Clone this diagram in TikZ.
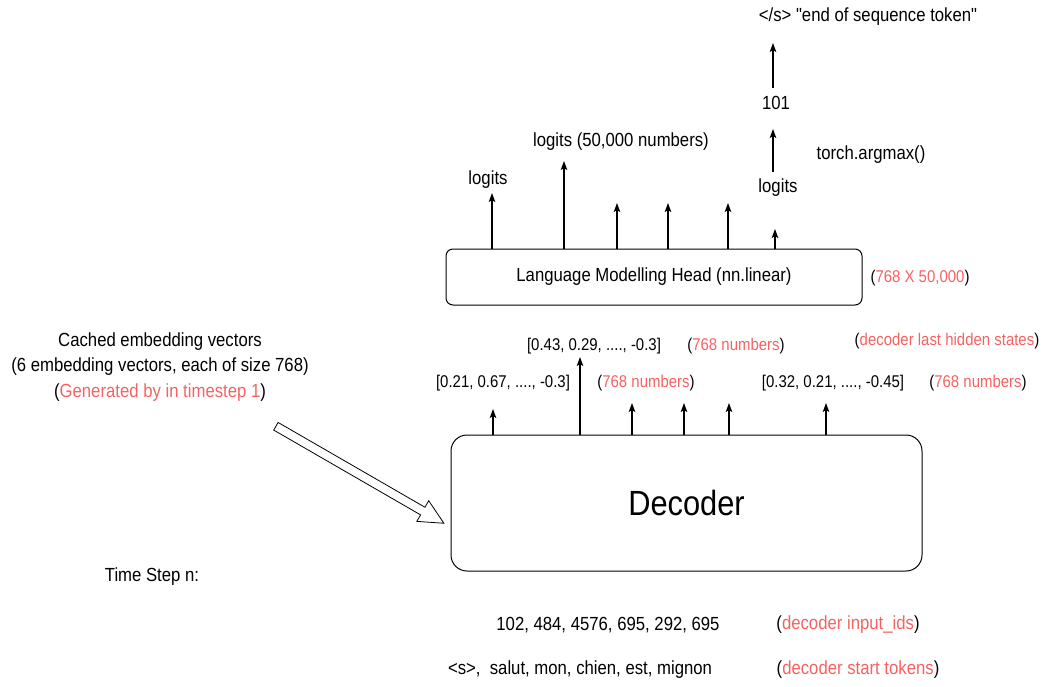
\documentclass[tikz,border=0pt]{standalone}
\usepackage{fontspec}
\setmainfont[FakeStretch=0.88, Ligatures=TeXOff]{Liberation Sans}
\usetikzlibrary{arrows.meta,shapes.arrows,calc}
\definecolor{rd}{RGB}{245,98,98}
\begin{document}
\begin{tikzpicture}[x=1pt,y=-1pt,
 txt/.style={inner sep=0pt, font=\fontsize{19}{25.5}\selectfont, align=center},
 sm/.style={inner sep=0pt, font=\fontsize{17}{20}\selectfont},
 box/.style={draw, line width=1pt},
 arr/.style={line width=1.3pt, -{Stealth[length=9pt,width=6.5pt,inset=2pt]}}]
\useasboundingbox (0,0) rectangle (1045,686);

% boxes
\node[box, rounded corners=7pt, minimum width=416pt, minimum height=56pt, txt] (lm) at (654,277) {Language Modelling Head (nn.linear)};
\node[box, rounded corners=16pt, minimum width=471pt, minimum height=136pt, inner sep=0pt, font=\fontsize{35}{40}\selectfont] (dec) at (686.5,503) {Decoder};

% LM head outputs
\node[txt] (lg1) at (488,180) {logits};
\node[txt] (lg2) at (621,142) {logits (50,000 numbers)};
\node[txt] (lg3) at (778,188) {logits};
\node[txt] (argm) at (871,155) {torch.argmax()};
\node[txt] (n101) at (776,103) {101};
\node[txt] (eos) at (868,17) {</s> "end of sequence token"};
\node[sm] (lmdim) at (920,278) {(\textcolor{rd}{768 X 50,000})};

\coordinate (h1) at (492,193);
\coordinate (h2) at (564,161);
\coordinate (h3) at (617,203);
\coordinate (h4) at (668,203);
\coordinate (h5) at (728,203);
\coordinate (h6) at (775,229);
\coordinate (a1) at (773,172);
\coordinate (a2) at (773,129);
\coordinate (b1) at (773,88);
\coordinate (b2) at (773,43);
\foreach \c in {h1,h2,h3,h4,h5,h6} \draw[arr] (lm.north -| \c) -- (\c);
\draw[arr] (a1) -- (a2);
\draw[arr] (b1) -- (b2);

% decoder outputs
\node[sm] (v1) at (503,383) {[0.21, 0.67, ...., -0.3]};
\node[sm] (v2) at (594,346) {[0.43, 0.29, ...., -0.3]};
\node[sm] (v3) at (833,383) {[0.32, 0.21, ...., -0.45]};
\node[sm] (c1) at (646,383) {(\textcolor{rd}{768 numbers})};
\node[sm] (c2) at (736,346) {(\textcolor{rd}{768 numbers})};
\node[sm] (c3) at (978,383) {(\textcolor{rd}{768 numbers})};
\node[sm] (lhs) at (947,341) {(\textcolor{rd}{decoder last hidden states})};

\coordinate (d1) at (493,409);
\coordinate (d2) at (580,357);
\coordinate (d3) at (632,403);
\coordinate (d4) at (684,403);
\coordinate (d5) at (729,403);
\coordinate (d6) at (826,403);
\foreach \c in {d1,d2,d3,d4,d5,d6} \draw[arr] (dec.north -| \c) -- (\c);

% cached embeddings
\node[txt] (cache) at (160,367) {Cached embedding vectors\\(6 embedding vectors, each of size 768)\\(\textcolor{rd}{Generated by in timestep 1})};
\coordinate (s1) at (272,424);
\coordinate (s2) at (440,521);
\node[single arrow, draw, line width=0.8pt, minimum height=194pt, minimum width=23pt, single arrow head extend=7.5pt, single arrow tip angle=52, inner sep=4pt, rotate=-30, anchor=center] (big) at ($(s1)!0.5!(s2)$) {};

% bottom
\node[txt] (ts) at (152,577) {Time Step n:};
\node[txt] (ids) at (608,625) {102, 484, 4576, 695, 292, 695};
\node[txt] (idsl) at (848,625) {(\textcolor{rd}{decoder input\_ids})};
\node[txt] (tok) at (580,670) {<s>,\ \ salut, mon, chien, est, mignon};
\node[txt] (tokl) at (858,670) {(\textcolor{rd}{decoder start tokens})};
\end{tikzpicture}
\end{document}
